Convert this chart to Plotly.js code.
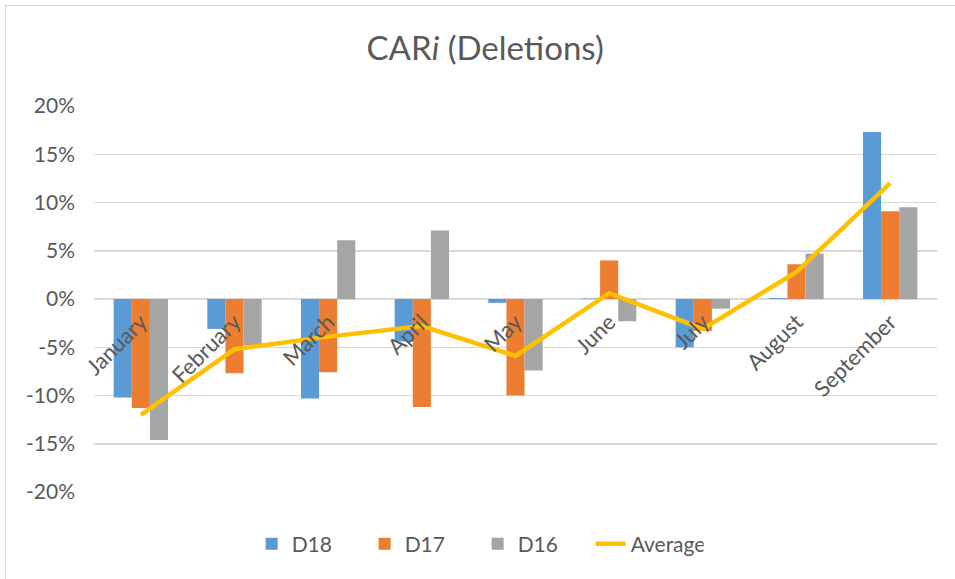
<!DOCTYPE html>
<html>
<head>
<meta charset="utf-8">
<script src="https://cdn.plot.ly/plotly-3.0.1.min.js"></script>
<style>
  html, body { margin: 0; padding: 0; background: #ffffff; }
  #chart { width: 955px; height: 579px; }
  #frame { position: absolute; left: 5px; top: 5px; width: 1200px; height: 1200px;
           border: 1.5px solid #d9d9d9; pointer-events: none; box-sizing: border-box; }
</style>
</head>
<body>
<div id="chart"></div>
<div id="frame"></div>
<script>
const months = ["January", "February", "March", "April", "May", "June", "July", "August", "September"];
const d18 = [-10.2, -3.1, -10.3, -4.4, -0.4, 0.05, -5.0, 0.1, 17.3];
const d17 = [-11.3, -7.7, -7.6, -11.2, -10.0, 4.0, -3.3, 3.6, 9.1];
const d16 = [-14.6, -4.8, 6.1, 7.1, -7.4, -2.3, -1.0, 4.7, 9.5];
const average = [-12.0, -5.2, -3.9, -2.8, -5.9, 0.6, -3.1, 2.8, 12.0];
const yTickVals = [-20, -15, -10, -5, 0, 5, 10, 15, 20];
const yTickText = ["-20%", "-15%", "-10%", "-5%", "0%", "5%", "10%", "15%", "20%"];

const font = "Lato, 'Open Sans', sans-serif";
const textColor = "#595959";

const traces = [
  { type: "bar", name: "D18", x: months, y: d18, marker: { color: "#5B9BD5" } },
  { type: "bar", name: "D17", x: months, y: d17, marker: { color: "#ED7D31" } },
  { type: "bar", name: "D16", x: months, y: d16, marker: { color: "#A5A5A5" } },
  { type: "scatter", mode: "lines", name: "Average", x: months, y: average,
    line: { color: "#FFC000", width: 4.5 } }
];

const layout = {
  width: 955, height: 579,
  margin: { l: 94, r: 18, t: 106, b: 87 },
  paper_bgcolor: "rgba(0,0,0,0)",
  plot_bgcolor: "rgba(0,0,0,0)",
  font: { family: font, color: textColor, size: 21 },
  title: { text: "CAR<i>i</i> (Deletions)", x: 0.508, xanchor: "center", y: 0.917, yanchor: "middle",
           font: { family: font, size: 33, color: textColor } },
  barmode: "group",
  bargap: 0.42,
  bargroupgap: 0,
  showlegend: true,
  legend: { orientation: "h", x: 0.187, xanchor: "left", y: -0.135, yanchor: "middle",
            entrywidth: 68, entrywidthmode: "pixels",
            font: { family: font, size: 21, color: textColor }, traceorder: "normal" },
  xaxis: {
    type: "category",
    anchor: "free", position: 0.5,
    showgrid: false, showline: false, zeroline: false,
    ticks: "", tickangle: -45,
    ticklabelstandoff: 5,
    tickfont: { family: font, size: 22, color: textColor },
    automargin: false
  },
  yaxis: {
    range: [-20, 20],
    tickvals: yTickVals, ticktext: yTickText,
    showgrid: true, gridcolor: "#d9d9d9", gridwidth: 1.5,
    zeroline: true, zerolinecolor: "#d9d9d9", zerolinewidth: 1.5,
    showline: false, ticks: "",
    ticklabelstandoff: 18,
    tickfont: { family: font, size: 21, color: textColor },
    automargin: false
  }
};

Plotly.newPlot("chart", traces, layout, { staticPlot: true, displayModeBar: false });
</script>
</body>
</html>
